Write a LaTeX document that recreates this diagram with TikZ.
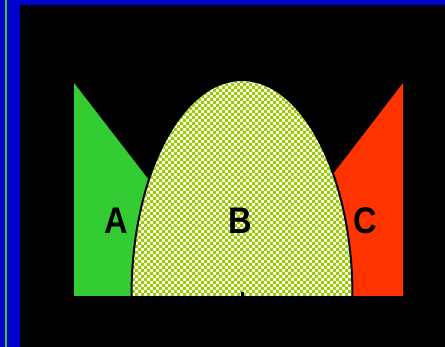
\documentclass[tikz,border=0pt]{standalone}
\usepackage{fontspec}
\setsansfont{Liberation Sans}
\usepackage{tikz}
\usetikzlibrary{patterns,positioning}

% 3pt checks for the middle region
\pgfdeclarepatternformonly{bigchecks}{\pgfqpoint{-.1pt}{-.1pt}}{\pgfqpoint{6.1pt}{6.1pt}}{\pgfqpoint{6pt}{6pt}}{
  \pgfpathrectangle{\pgfqpoint{0pt}{0pt}}{\pgfqpoint{3.1pt}{3.1pt}}
  \pgfpathrectangle{\pgfqpoint{3pt}{3pt}}{\pgfqpoint{3.1pt}{3.1pt}}
  \pgfusepath{fill}}

\definecolor{frameblue}{HTML}{0000CC}
\definecolor{leafgreen}{HTML}{33CC33}
\definecolor{hotred}{HTML}{FF3300}
\definecolor{checkgreen}{HTML}{99CC00}

\tikzset{
  region label/.style={font=\sffamily\bfseries\fontsize{37}{37}\selectfont, xscale=0.88, text=black, inner sep=0pt},
}

\begin{document}
\begin{tikzpicture}[x=1pt, y=-1pt]
  % Frame and background
  \fill[frameblue] (0,0) rectangle (445,347);
  \fill[leafgreen] (5,0) rectangle (7,347);
  \fill[black] (20,5) rectangle (445,347);
  \useasboundingbox (0,0) rectangle (445,347);
  % Side regions
  \fill[leafgreen] (74,83) -- (152,184) -- (152,296) -- (74,296) -- cycle;
  \fill[hotred] (403,83) -- (330,178) -- (330,296) -- (403,296) -- cycle;
  % Middle region: half ellipse
  \fill[white] (131.5,296) arc[start angle=180, end angle=0, x radius=110.5, y radius=-216] -- cycle;
  \fill[pattern=bigchecks, pattern color=checkgreen]
    (131.5,296) arc[start angle=180, end angle=0, x radius=110.5, y radius=-216] -- cycle;
  \draw[line width=2pt] (131.5,296) arc[start angle=180, end angle=0, x radius=110.5, y radius=-216];
  % Small mark on the base
  \fill[black] (240.5,292.5) rectangle (243.5,296);
  % Labels
  \node[region label] (labA) at (116,221) {A};
  \node[region label] (labB) at (240,221) {B};
  \node[region label] (labC) at (365,221) {C};
\end{tikzpicture}
\end{document}
